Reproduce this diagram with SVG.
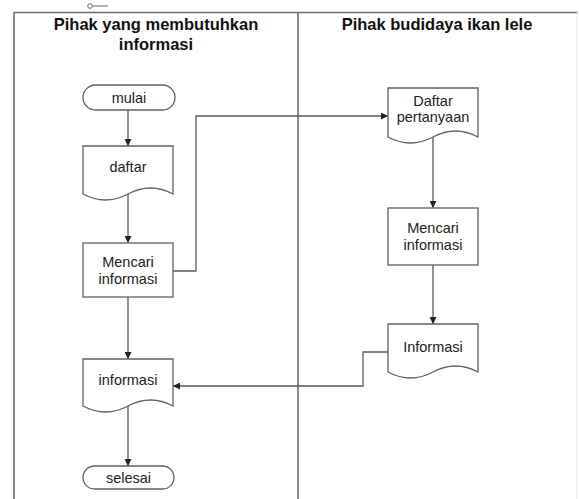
<svg xmlns="http://www.w3.org/2000/svg" width="579" height="499" viewBox="0 0 579 499">
<style>
.shape{fill:#ffffff;stroke:#606060;stroke-width:1.3}
.lane{fill:none;stroke:#707070;stroke-width:1.6}
.conn{fill:none;stroke:#5a5a5a;stroke-width:1.3}
.t{font-family:"Liberation Sans",Arial,sans-serif;font-size:14.5px;fill:#222;text-anchor:middle}
.h{font-family:"Liberation Sans",Arial,sans-serif;font-size:16.5px;font-weight:bold;fill:#111;text-anchor:middle}
</style>
<defs>
<marker id="arr" viewBox="0 0 10 10" refX="10" refY="5" markerWidth="7" markerHeight="7" orient="auto" markerUnits="userSpaceOnUse">
<path d="M0,0 L10,5 L0,10 Z" fill="#222"/>
</marker>
</defs>
<rect width="579" height="499" fill="#ffffff"/>
<g id="lanes">
<circle cx="90" cy="6" r="2.3" fill="none" stroke="#555" stroke-width="0.9"/>
<line x1="92.5" y1="6" x2="108" y2="6" stroke="#555" stroke-width="0.9"/>
<line class="lane" x1="14" y1="12.5" x2="578" y2="12.5"/>
<line class="lane" x1="14" y1="12" x2="14" y2="499"/>
<line class="lane" x1="298" y1="12" x2="298" y2="499"/>
<line x1="577" y1="12" x2="577" y2="499" stroke="#e4e4e4" stroke-width="1"/>
<text class="h" x="156" y="30">Pihak yang membutuhkan</text>
<text class="h" x="156" y="50">informasi</text>
<text class="h" x="437" y="30">Pihak budidaya ikan lele</text>
</g>
<g id="connectors">
<line class="conn" x1="128" y1="110" x2="128" y2="146" marker-end="url(#arr)"/>
<line class="conn" x1="128" y1="194" x2="128" y2="243" marker-end="url(#arr)"/>
<polyline class="conn" points="173,271 196,271 196,116 388,116" marker-end="url(#arr)"/>
<line class="conn" x1="128" y1="297" x2="128" y2="359" marker-end="url(#arr)"/>
<line class="conn" x1="433" y1="137" x2="433" y2="208" marker-end="url(#arr)"/>
<line class="conn" x1="433" y1="265" x2="433" y2="324" marker-end="url(#arr)"/>
<polyline class="conn" points="388,352 363,352 363,386 173,386" marker-end="url(#arr)"/>
<line class="conn" x1="128" y1="406" x2="128" y2="466" marker-end="url(#arr)"/>
</g>
<g id="mulai">
<rect class="shape" x="83" y="85" width="92" height="25" rx="12.5"/>
<text class="t" x="129" y="103">mulai</text>
</g>
<g id="daftar">
<path class="shape" d="M83,146 H173 V194 Q150.5,182 128,194 Q105.5,206 83,194 Z"/>
<text class="t" x="128" y="172">daftar</text>
</g>
<g id="mencari1">
<rect class="shape" x="83" y="243" width="90" height="54"/>
<text class="t" x="128" y="267">Mencari</text>
<text class="t" x="128" y="284">informasi</text>
</g>
<g id="informasi1">
<path class="shape" d="M83,359 H173 V406 Q150.5,394 128,406 Q105.5,418 83,406 Z"/>
<text class="t" x="128" y="385">informasi</text>
</g>
<g id="selesai">
<rect class="shape" x="83" y="466" width="91" height="23" rx="11.5"/>
<text class="t" x="128.5" y="483">selesai</text>
</g>
<g id="daftar-pertanyaan">
<path class="shape" d="M388,88 H478 V137 Q455.5,125 433,137 Q410.5,149 388,137 Z"/>
<text class="t" x="433" y="106">Daftar</text>
<text class="t" x="433" y="122">pertanyaan</text>
</g>
<g id="mencari2">
<rect class="shape" x="388" y="208" width="90" height="57"/>
<text class="t" x="433" y="233">Mencari</text>
<text class="t" x="433" y="250">informasi</text>
</g>
<g id="informasi2">
<path class="shape" d="M388,324 H478 V372 Q455.5,360 433,372 Q410.5,384 388,372 Z"/>
<text class="t" x="433" y="352">Informasi</text>
</g>
</svg>
